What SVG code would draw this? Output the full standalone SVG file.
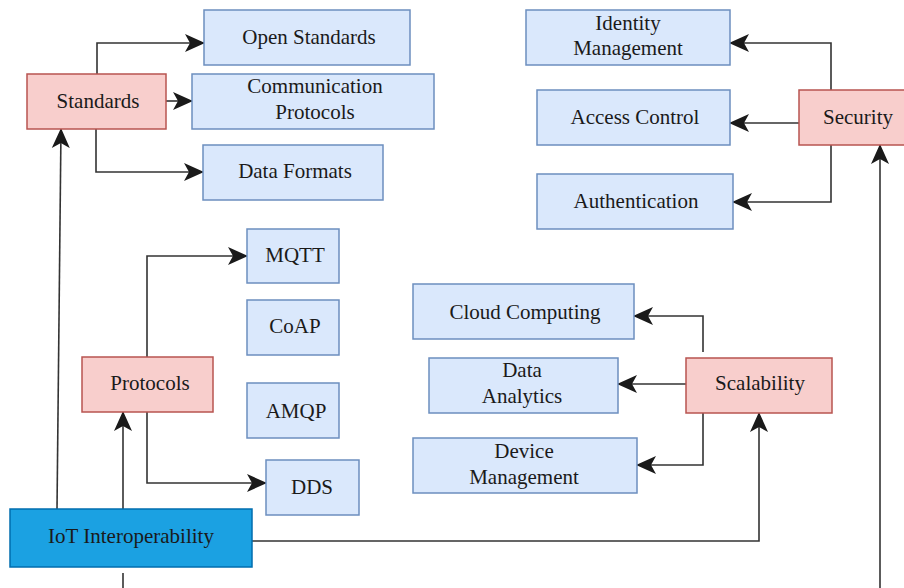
<svg xmlns="http://www.w3.org/2000/svg" width="904" height="588" viewBox="0 0 904 588">
<style>
.red{fill:#f8cecc;stroke:#b85450;stroke-width:1.5}
.blue{fill:#dae8fc;stroke:#6c8ebf;stroke-width:1.5}
.main{fill:#1ba1e2;stroke:#006eaf;stroke-width:1.5}
text{font-family:"Liberation Serif","Times New Roman",serif;font-size:21px;fill:#1a1a1a;text-anchor:middle}
.edge{fill:none;stroke:#333;stroke-width:1.6;marker-end:url(#arr)}
.plain{fill:none;stroke:#333;stroke-width:1.6}
</style>
<defs>
<marker id="arr" viewBox="0 0 20 20" markerWidth="20" markerHeight="20" refX="19" refY="10" orient="auto" markerUnits="userSpaceOnUse">
<path d="M0,1 L20,10 L0,19 L5,10 Z" fill="#1a1a1a"/>
</marker>
</defs>
<rect width="904" height="588" fill="#fff"/>
<g id="connectors">
<path class="edge" d="M97,74 V43 H204"/>
<path class="edge" d="M166,101 H192"/>
<path class="edge" d="M96,129 V172 H203"/>
<path class="edge" d="M57,509 L61,129"/>
<path class="edge" d="M147,357 V256 H247"/>
<path class="edge" d="M147,412 V483 H266"/>
<path class="edge" d="M123,509 V412"/>
<path class="plain" d="M123,573 V588"/>
<path class="edge" d="M252,541 H759 V413"/>
<path class="edge" d="M703,352 V316 H634"/>
<path class="edge" d="M686,384 H618"/>
<path class="edge" d="M703,413 V465 H637"/>
<path class="edge" d="M831,90 V43 H730"/>
<path class="edge" d="M799,123 H730"/>
<path class="edge" d="M831,145 V202 H733"/>
<path class="edge" d="M880,588 V145"/>
</g>
<g id="standards"><rect class="red" x="27" y="74" width="139" height="55"/><text x="98" y="108">Standards</text></g>
<g id="open-standards"><rect class="blue" x="204" y="10" width="206" height="55"/><text x="309" y="44">Open Standards</text></g>
<g id="communication-protocols"><rect class="blue" x="192" y="74" width="242" height="55"/><text x="315" y="93">Communication</text><text x="315" y="119">Protocols</text></g>
<g id="data-formats"><rect class="blue" x="203" y="145" width="180" height="55"/><text x="295" y="178">Data Formats</text></g>
<g id="identity-management"><rect class="blue" x="526" y="10" width="204" height="55"/><text x="628" y="30">Identity</text><text x="628" y="55">Management</text></g>
<g id="access-control"><rect class="blue" x="537" y="90" width="193" height="55"/><text x="635" y="124">Access Control</text></g>
<g id="authentication"><rect class="blue" x="537" y="174" width="196" height="55"/><text x="636" y="208">Authentication</text></g>
<g id="security"><rect class="red" x="799" y="90" width="118" height="55"/><text x="858" y="124">Security</text></g>
<g id="mqtt"><rect class="blue" x="247" y="229" width="92" height="54"/><text x="295" y="262">MQTT</text></g>
<g id="coap"><rect class="blue" x="247" y="300" width="92" height="55"/><text x="295" y="333">CoAP</text></g>
<g id="amqp"><rect class="blue" x="247" y="383" width="92" height="55"/><text x="296" y="418">AMQP</text></g>
<g id="dds"><rect class="blue" x="266" y="460" width="93" height="55"/><text x="312" y="494">DDS</text></g>
<g id="protocols"><rect class="red" x="82" y="357" width="131" height="55"/><text x="150" y="390">Protocols</text></g>
<g id="iot-interoperability"><rect class="main" x="10" y="509" width="242" height="58"/><text x="131" y="543">IoT Interoperability</text></g>
<g id="cloud-computing"><rect class="blue" x="413" y="284" width="221" height="55"/><text x="525" y="319">Cloud Computing</text></g>
<g id="data-analytics"><rect class="blue" x="429" y="358" width="189" height="55"/><text x="522" y="377">Data</text><text x="522" y="403">Analytics</text></g>
<g id="device-management"><rect class="blue" x="413" y="438" width="224" height="55"/><text x="524" y="458">Device</text><text x="524" y="484">Management</text></g>
<g id="scalability"><rect class="red" x="686" y="358" width="146" height="55"/><text x="760" y="390">Scalability</text></g>
</svg>
